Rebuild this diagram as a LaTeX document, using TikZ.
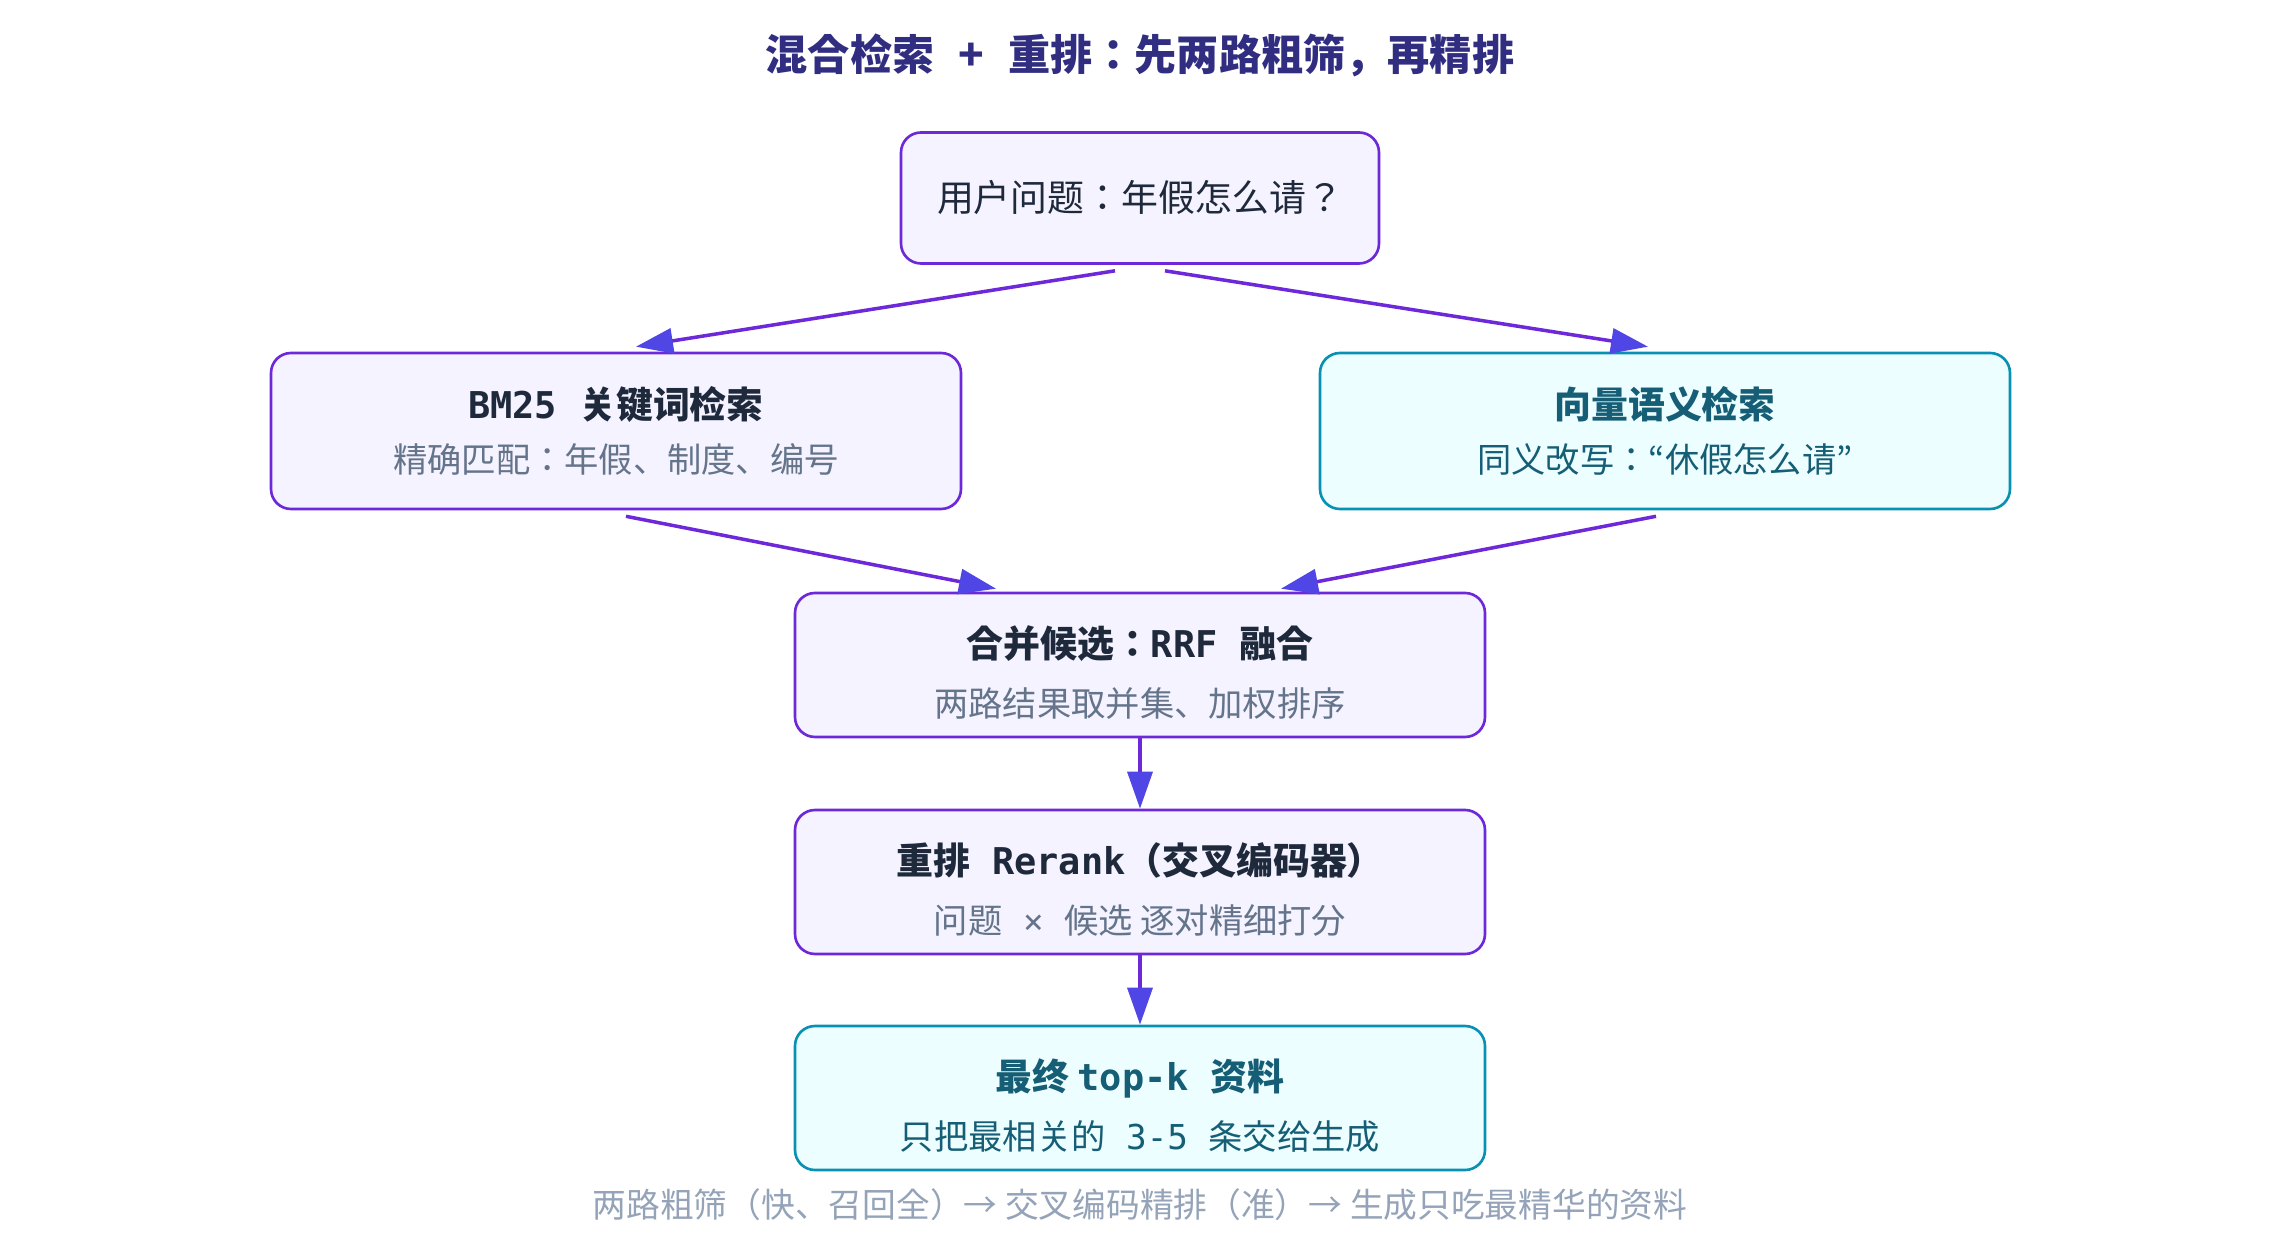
\documentclass[tikz,border=0pt]{standalone}
\usepackage{fontspec}
\setmainfont{Noto Sans CJK JP}
\setmonofont{DejaVu Sans Mono}
\usetikzlibrary{positioning,arrows.meta,calc}

\definecolor{titleink}{HTML}{312E81}
\definecolor{violetline}{HTML}{6D28D9}
\definecolor{violetfill}{HTML}{F5F3FF}
\definecolor{tealline}{HTML}{0891B2}
\definecolor{tealfill}{HTML}{ECFEFF}
\definecolor{tealink}{HTML}{155E75}
\definecolor{darkink}{HTML}{1E293B}
\definecolor{grayink}{HTML}{64748B}
\definecolor{noteink}{HTML}{94A3B8}
\definecolor{tipink}{HTML}{4F46E5}

\newcommand{\rowlift}{\rule{0pt}{13.2pt}}

\begin{document}
\begin{tikzpicture}[node distance=22mm, block/.style={rectangle, rounded corners=2mm, draw=violetline, fill=violetfill, line width=0.75pt, minimum width=69mm, minimum height=14.4mm, align=center, text=darkink, font=\fontsize{9.75pt}{15.3pt}\selectfont}, tealblock/.style={block, draw=tealline, fill=tealfill, text=tealink}, flow/.style={draw=violetline, line width=1pt, -{Triangle[length=3.7mm, width=2.5mm, color=tipink]}}]

    \useasboundingbox (0,0) rectangle (228mm,-124.2mm);

    \node[text=titleink, font=\bfseries\fontsize{12pt}{14pt}\selectfont] (title) at (114mm,-5.5mm) {混合检索\hspace{2.4mm}+\hspace{2.4mm}重排：先两路粗筛，再精排};
    \node[block, below of=title, node distance=14.3mm, minimum width=47.8mm, minimum height=13.1mm, font=\fontsize{10.5pt}{14pt}\selectfont] (question) {用户问题：年假怎么请？};
    \node[block, below of=question, node distance=23.3mm, xshift=-52.4mm, minimum height=15.6mm] (bm25) {{\bfseries\fontsize{10.5pt}{15.3pt}\selectfont\texttt{BM25 }关键词检索}\\{\color{grayink}精确匹配：年假、制度、编号}};
    \node[tealblock, below of=question, node distance=23.3mm, xshift=52.5mm, minimum height=15.6mm] (vector) {{\bfseries\fontsize{10.5pt}{15.3pt}\selectfont 向量语义检索}\\同义改写：“休假怎么请”};
    \node[block, below of=question, node distance=46.7mm] (rrf) {{\bfseries\fontsize{10.5pt}{15.3pt}\selectfont\rowlift 合并候选：\texttt{RRF }融合}\\[0.5mm]{\color{grayink}两路结果取并集、加权排序}};
    \node[block, below of=rrf, node distance=21.7mm] (rerank) {{\bfseries\fontsize{10.5pt}{15.3pt}\selectfont\rowlift 重排\texttt{ Rerank}（交叉编码器）}\\[0.5mm]{\color{grayink}问题\texttt{ × }候选 逐对精细打分}};
    \node[tealblock, below of=rerank, node distance=21.6mm] (final) {{\bfseries\fontsize{10.5pt}{15.3pt}\selectfont\rowlift 最终 \texttt{top-k }资料}\\[0.5mm]只把最相关的\texttt{ 3-5 }条交给生成};
    \node[below of=final, node distance=10.7mm, text=noteink, font=\fontsize{9.6pt}{12pt}\selectfont] (footnote) {两路粗筛（快、召回全）→ 交叉编码精排（准）→ 生成只吃最精华的资料};

    \draw[flow] ($(question.south)+(-2.5mm,-0.6mm)$) -- ($(bm25.north)+(2mm,0.5mm)$);
    \draw[flow] ($(question.south)+(2.5mm,-0.6mm)$) -- ($(vector.north)+(-1.7mm,0.5mm)$);
    \draw[flow] ($(bm25.south)+(1mm,-0.6mm)$) -- ($(rrf.north)+(-14.4mm,0.3mm)$);
    \draw[flow] ($(vector.south)+(-0.9mm,-0.6mm)$) -- ($(rrf.north)+(14.1mm,0.3mm)$);
    \draw[flow] (rrf) -- (rerank);
    \draw[flow] (rerank) -- (final);
  \end{tikzpicture}
\end{document}
